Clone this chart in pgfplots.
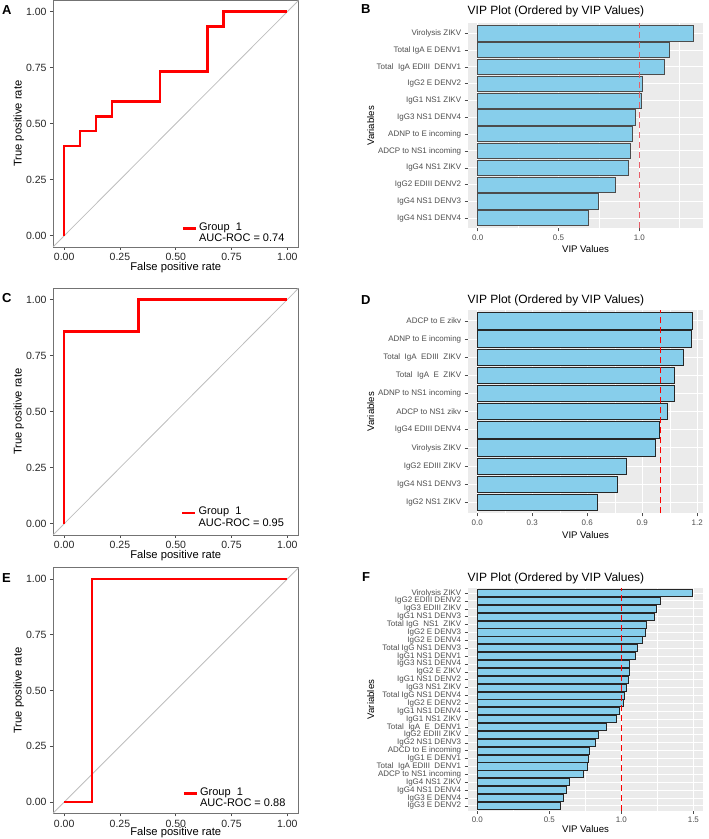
\documentclass[border=0pt]{standalone}
\usepackage{pgfplots}
\pgfplotsset{compat=1.18}
\usepackage{fontspec}
\setmainfont{Liberation Sans}
\definecolor{panelbg}{HTML}{EBEBEB}
\definecolor{skyb}{HTML}{87CEEB}
\definecolor{txtgray}{HTML}{4D4D4D}
\definecolor{diag}{HTML}{BEBEBE}
\definecolor{vred}{HTML}{FF0000}
\definecolor{vpink}{HTML}{E8606A}

\pgfplotsset{
  rocstyle/.style={
    scale only axis, width=245.5pt,
    xmin=-0.05,xmax=1.05,ymin=-0.05,ymax=1.05,
    xtick={0,0.25,0.5,0.75,1}, ytick={0,0.25,0.5,0.75,1},
    xticklabels={0.00,0.25,0.50,0.75,1.00}, yticklabels={0.00,0.25,0.50,0.75,1.00},
    tick align=outside, tick pos=left, major tick length=3pt,
    tick style={black!70, line width=0.6pt},
    axis line style={black!55, line width=0.9pt},
    ticklabel style={font=\fontsize{10.5}{12}\selectfont, text=black!85},
    /pgf/number format/assume math mode=true,
    legend style={draw=none, fill=none, inner sep=0pt, outer sep=0pt,
      font=\fontsize{11}{11.6}\selectfont, cells={anchor=west}},
    legend image code/.code={\draw[##1] (0pt,1.7pt) -- (13pt,1.7pt);},
  },
  vipstyle/.style={
    scale only axis, width=235.6pt,
    axis background/.style={fill=panelbg},
    axis line style={draw=none},
    tick align=outside, tick pos=left, major tick length=3pt, minor tick length=0pt,
    tick style={txtgray, line width=0.6pt},
    grid=both, major grid style={white, line width=1pt}, minor grid style={white, line width=0.5pt},
    yticklabel style={font=\fontsize{8}{8}\selectfont, text=txtgray},
    xticklabel style={font=\fontsize{8}{8}\selectfont, text=txtgray},
    /pgf/number format/assume math mode=true,
  },
  vipbar/.style={xbar, bar width=0.9, fill=skyb, draw=black!85, line width=0.8pt},
  vline/.style={draw=#1, dash pattern=on 6pt off 4pt, line width=1.2pt},
}

\pgfplotstableread{
y v
12 1.332
11 1.188
10 1.153
9 1.021
8 1.016
7 0.975
6 0.957
5 0.944
4 0.932
3 0.854
2 0.748
1 0.687
}\tabB

\pgfplotstableread{
y v
11 1.175
10 1.169
9 1.127
8 1.075
7 1.075
6 1.036
5 0.993
4 0.969
3 0.815
2 0.767
1 0.653
}\tabD

\pgfplotstableread{
y v
28 1.492
27 1.273
26 1.245
25 1.231
24 1.176
23 1.169
22 1.150
21 1.109
20 1.095
19 1.058
18 1.057
17 1.051
16 1.035
15 1.019
14 1.017
13 0.984
12 0.968
11 0.894
10 0.841
9 0.818
8 0.778
7 0.774
6 0.767
5 0.734
4 0.637
3 0.619
2 0.596
1 0.575
}\tabF

\begin{document}
\begin{tikzpicture}[x=1pt,y=1pt]
\useasboundingbox (0,0) rectangle (709,839);

% ---------------- A ----------------
\begin{axis}[rocstyle, height=246.5pt, at={(53pt,592pt)}, anchor=south west,
  legend style={at={(0.524,0.069)}, anchor=west}]
\addplot[diag, line width=0.8pt, forget plot] coordinates {(-0.05,-0.05) (1.05,1.05)};
\addplot[red, line width=2.5pt] coordinates {(0,0) (0,0.4) (0.0714,0.4) (0.0714,0.4667) (0.1429,0.4667) (0.1429,0.5333) (0.2143,0.5333) (0.2143,0.6) (0.4286,0.6) (0.4286,0.7333) (0.6429,0.7333) (0.6429,0.9333) (0.7143,0.9333) (0.7143,1) (1,1)};
\addlegendentry{\begin{tabular}{@{}l@{}}Group~~1\\AUC-ROC = 0.74\end{tabular}}
\end{axis}

% ---------------- C ----------------
\begin{axis}[rocstyle, height=246.7pt, at={(53pt,304pt)}, anchor=south west,
  legend style={at={(0.522,0.083)}, anchor=west}]
\addplot[diag, line width=0.8pt, forget plot] coordinates {(-0.05,-0.05) (1.05,1.05)};
\addplot[red, line width=2.5pt] coordinates {(0,0) (0,0.8571) (0.3333,0.8571) (0.3333,1) (1,1)};
\addlegendentry{\begin{tabular}{@{}l@{}}Group~~1\\AUC-ROC = 0.95\end{tabular}}
\end{axis}

% ---------------- E ----------------
\begin{axis}[rocstyle, height=245.6pt, at={(53pt,25.7pt)}, anchor=south west,
  legend style={at={(0.528,0.074)}, anchor=west}]
\addplot[diag, line width=0.8pt, forget plot] coordinates {(-0.05,-0.05) (1.05,1.05)};
\addplot[red, line width=2.5pt] coordinates {(0,0) (0.125,0) (0.125,1) (1,1)};
\addlegendentry{\begin{tabular}{@{}l@{}}Group~~1\\AUC-ROC = 0.88\end{tabular}}
\end{axis}

% ---------------- B ----------------
\begin{axis}[vipstyle, height=205pt, at={(467.7pt,610.7pt)}, anchor=south west,
  xmin=-0.062, xmax=1.396, ymin=0.4, ymax=12.6,
  xtick={0,0.5,1}, xticklabels={0.0,0.5,1.0}, minor xtick={0.25,0.75,1.25},
  ytick={1,...,12},
  yticklabels={IgG4 NS1 DENV4, IgG4 NS1 DENV3, IgG2 EDIII DENV2, IgG4 NS1 ZIKV, ADCP to NS1 incoming, ADNP to E incoming, IgG3 NS1 DENV4, IgG1 NS1 ZIKV, IgG2 E DENV2, Total\ \ IgA EDIII\ \ DENV1, Total IgA E DENV1, Virolysis ZIKV}]
\addplot[vipbar, draw=black!70] table[x=v, y=y] {\tabB};
\addplot[vline=vpink] coordinates {(1,0.4) (1,12.6)};
\end{axis}

% ---------------- D ----------------
\begin{axis}[vipstyle, height=203.3pt, at={(467.7pt,325.7pt)}, anchor=south west,
  xmin=-0.0524, xmax=1.233, ymin=0.4, ymax=11.6,
  xtick={0,0.3,0.6,0.9,1.2}, xticklabels={0.0,0.3,0.6,0.9,1.2}, minor xtick={0.15,0.45,0.75,1.05},
  ytick={1,...,11},
  yticklabels={IgG2 NS1 ZIKV, IgG4 NS1 DENV3, IgG2 EDIII ZIKV, Virolysis ZIKV, IgG4 EDIII DENV4, ADCP to NS1 zikv, ADNP to NS1 incoming, Total\ \ IgA\ \ E\ \ ZIKV, Total\ \ IgA\ \ EDIII\ \ ZIKV, ADNP to E incoming, ADCP to E zikv}]
\addplot[vipbar] table[x=v, y=y] {\tabD};
\addplot[vline=vred] coordinates {(1,0.4) (1,11.6)};
\end{axis}

% ---------------- F ----------------
\begin{axis}[vipstyle, height=222.4pt, at={(467.7pt,28.3pt)}, anchor=south west,
  xmin=-0.067, xmax=1.569, ymin=0.4, ymax=28.6,
  xtick={0,0.5,1,1.5}, xticklabels={0.0,0.5,1.0,1.5}, minor xtick={0.25,0.75,1.25},
  ytick={1,...,28},
  yticklabel style={font=\fontsize{8}{8}\selectfont},
  yticklabels={IgG3 E DENV2, IgG3 E DENV4, IgG4 NS1 DENV4, IgG4 NS1 ZIKV, ADCP to NS1 incoming, Total\ \ IgA EDIII\ \ DENV1, IgG1 E DENV1, ADCD to E incoming, IgG2 NS1 DENV3, IgG2 EDIII ZIKV, Total\ \ IgA\ \ E\ \ DENV1, IgG1 NS1 ZIKV, IgG1 NS1 DENV4, IgG2 E DENV2, Total IgG NS1 DENV4, IgG3 NS1 ZIKV, IgG1 NS1 DENV2, IgG2 E ZIKV, IgG3 NS1 DENV4, IgG1 NS1 DENV1, Total IgG NS1 DENV3, IgG2 E DENV4, IgG2 E DENV3, Total IgG\ \ NS1\ \ ZIKV, IgG1 NS1 DENV3, IgG3 EDIII ZIKV, IgG2 EDIII DENV2, Virolysis ZIKV}]
\addplot[vipbar, line width=1pt] table[x=v, y=y] {\tabF};
\addplot[vline=vred] coordinates {(1,0.4) (1,28.6)};
\end{axis}

% ---------------- texts ----------------
\begin{scope}[every node/.style={inner sep=0pt, outer sep=0pt}]
\node[anchor=base west, font=\bfseries\fontsize{13}{13}\selectfont] at (2,824) {A};
\node[anchor=base west, font=\bfseries\fontsize{13}{13}\selectfont] at (361,825) {B};
\node[anchor=base west, font=\bfseries\fontsize{13}{13}\selectfont] at (2,536.3) {C};
\node[anchor=base west, font=\bfseries\fontsize{13}{13}\selectfont] at (361,534.7) {D};
\node[anchor=base west, font=\bfseries\fontsize{13}{13}\selectfont] at (2,256.7) {E};
\node[anchor=base west, font=\bfseries\fontsize{13}{13}\selectfont] at (362,257.3) {F};

\node[anchor=base west, font=\fontsize{12}{12}\selectfont] at (467.7,824) {VIP Plot (Ordered by VIP Values)};
\node[anchor=base west, font=\fontsize{12}{12}\selectfont] at (467.7,535.7) {VIP Plot (Ordered by VIP Values)};
\node[anchor=base west, font=\fontsize{12}{12}\selectfont] at (467.7,257.3) {VIP Plot (Ordered by VIP Values)};

\node[anchor=base, font=\fontsize{11.2}{11.2}\selectfont] at (175.75,568.3) {False positive rate};
\node[anchor=base, font=\fontsize{11.2}{11.2}\selectfont] at (175.75,280.3) {False positive rate};
\node[anchor=base, font=\fontsize{11.2}{11.2}\selectfont] at (175.75,3.6) {False positive rate};
\node[anchor=base, rotate=90, font=\fontsize{11.2}{11.2}\selectfont] at (21.5,715.3) {True positive rate};
\node[anchor=base, rotate=90, font=\fontsize{11.2}{11.2}\selectfont] at (21.5,427.3) {True positive rate};
\node[anchor=base, rotate=90, font=\fontsize{11.2}{11.2}\selectfont] at (21.5,148.5) {True positive rate};

\node[anchor=base, font=\fontsize{9.6}{9.6}\selectfont] at (585.5,586.7) {VIP Values};
\node[anchor=base, font=\fontsize{9.6}{9.6}\selectfont] at (585.5,300.7) {VIP Values};
\node[anchor=base, font=\fontsize{9.6}{9.6}\selectfont] at (585.5,6.3) {VIP Values};
\node[anchor=base, rotate=90, font=\fontsize{9.6}{9.6}\selectfont] at (374,713.2) {Variables};
\node[anchor=base, rotate=90, font=\fontsize{9.6}{9.6}\selectfont] at (374,427.3) {Variables};
\node[anchor=base, rotate=90, font=\fontsize{9.6}{9.6}\selectfont] at (374,139.5) {Variables};
\end{scope}
\end{tikzpicture}
\end{document}
